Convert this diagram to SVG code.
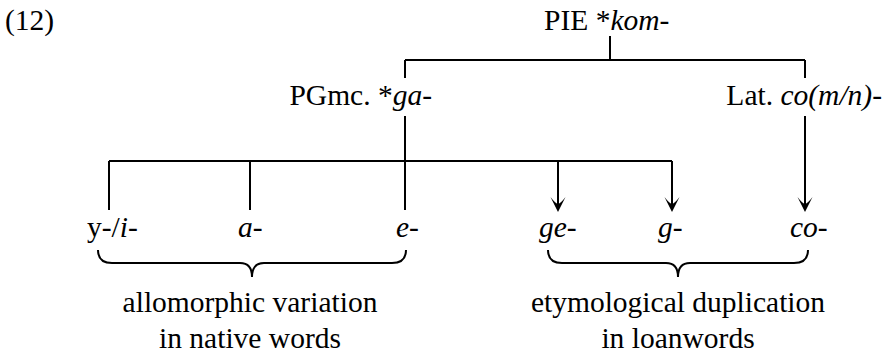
<svg xmlns="http://www.w3.org/2000/svg" width="884" height="355" viewBox="0 0 884 355">
<style>
text{font-family:"Liberation Serif","Times New Roman",serif;font-size:29.5px;fill:#000}
.i{font-style:italic}
.ln{stroke:#000;stroke-width:2;fill:none}
.br{stroke:#000;stroke-width:2;fill:none}
</style>
<defs>
<marker id="ah" markerUnits="userSpaceOnUse" markerWidth="30" markerHeight="30" refX="0" refY="0" orient="auto" overflow="visible">
<path d="M6,0 L-9,-7.5 Q-3,-3 -2,0 Q-3,3 -9,7.5 Z" fill="#000"/>
</marker>
</defs>
<rect width="884" height="355" fill="#fff"/>
<text x="5" y="30">(12)</text>
<g id="pie"><text x="544" y="30">PIE *<tspan class="i">kom</tspan>-</text></g>
<g id="pgmc"><text x="432" y="105" text-anchor="end">PGmc. *<tspan class="i">ga-</tspan></text></g>
<g id="lat"><text x="882" y="105" text-anchor="end">Lat. <tspan class="i">co(m/n)</tspan>-</text></g>
<g id="yi"><text x="87" y="237">y-/<tspan class="i">i-</tspan></text></g>
<g id="a"><text x="238" y="237" class="i">a-</text></g>
<g id="e"><text x="396" y="237" class="i">e-</text></g>
<g id="ge"><text x="539" y="237" class="i">ge-</text></g>
<g id="g"><text x="658" y="237" class="i">g-</text></g>
<g id="co"><text x="790" y="237" class="i">co-</text></g>
<g id="connectors">
<path class="ln" d="M610,36 V60 M405,60 H805 M405,60 V78 M805,60 V78"/>
<path class="ln" d="M405,116 V210 M109,161 H672 M109,161 V210 M250,161 V210"/>
<path class="ln" d="M558,161 V206" marker-end="url(#ah)"/>
<path class="ln" d="M672,161 V206" marker-end="url(#ah)"/>
<path class="ln" d="M805,116 V206" marker-end="url(#ah)"/>
</g>
<g id="brace-left">
<path class="br" d="M98,250 Q98,263 112,263 L240,263 Q252,263 252,277 Q252,263 264,263 L392,263 Q406,263 406,250"/>
<text x="250" y="312" text-anchor="middle">allomorphic variation</text>
<text x="250" y="348" text-anchor="middle">in native words</text>
</g>
<g id="brace-right">
<path class="br" d="M548,250 Q548,263 562,263 L666,263 Q678,263 678,277 Q678,263 690,263 L794,263 Q808,263 808,250"/>
<text x="678" y="312" text-anchor="middle">etymological duplication</text>
<text x="678" y="348" text-anchor="middle">in loanwords</text>
</g>
</svg>
